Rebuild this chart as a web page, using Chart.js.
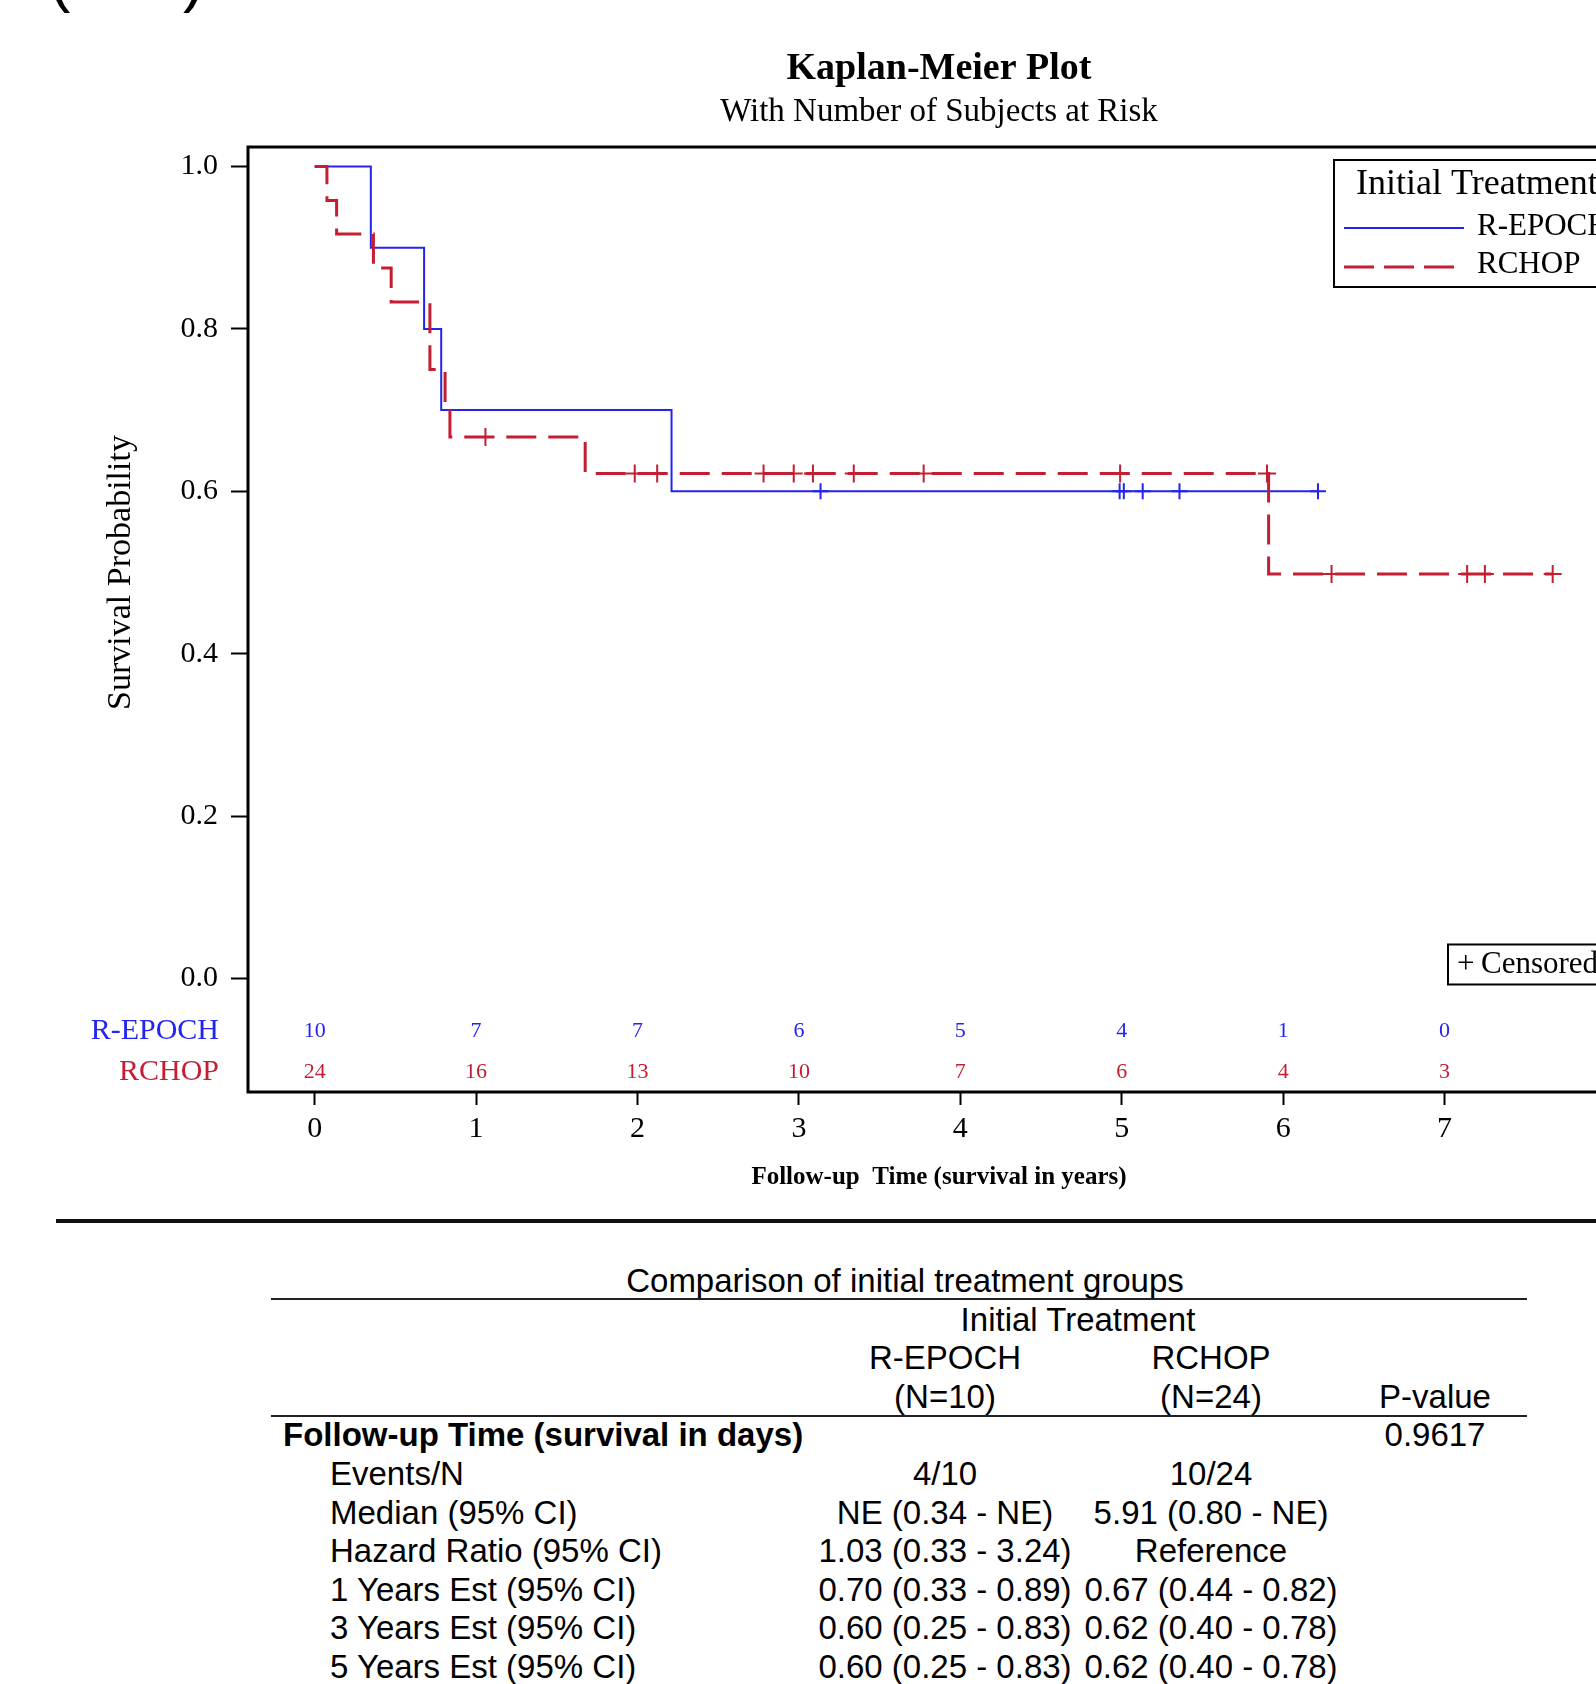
<!DOCTYPE html>
<html>
<head>
<meta charset="utf-8">
<title>Kaplan-Meier Plot</title>
<script src="https://cdn.jsdelivr.net/npm/chart.js@4.4.1/dist/chart.umd.min.js"></script>
<style>
  html, body { margin: 0; padding: 0; background: #fff; overflow: hidden; }
  #page { position: relative; width: 1596px; height: 1684px; overflow: hidden; }
  #km { position: absolute; left: 0; top: 0; }
  .paren { position: absolute; top: -54px; font: 64px/64px "Liberation Sans", Arial, sans-serif; color: #000; }
  #rule { position: absolute; left: 56px; top: 1219px; width: 1700px; height: 4px; background: #111; }
  .cell { position: absolute; font: 33px/38.6px "Liberation Sans", Arial, sans-serif; color: #000; white-space: pre; }
  .hline { position: absolute; left: 271px; width: 1256px; height: 2px; background: #222; }
</style>
</head>
<body>
<div id="page">
  <div class="paren" style="left:49px">(</div>
  <div class="paren" style="left:183px">)</div>
  <canvas id="km" width="1700" height="1212"></canvas>
  <div id="rule"></div>
  <div id="summary"></div>
</div>
<script>
// Kaplan-Meier curves by initial treatment

// Number at risk
const years = [0, 1, 2, 3, 4, 5, 6, 7];
const repochAtRisk = [10, 7, 7, 6, 5, 4, 1, 0];
const rchopAtRisk = [24, 16, 13, 10, 7, 6, 4, 3];

// Step curves (time in years, survival probability)
const repochTime = [0, 0.348, 0.678, 0.784, 2.211, 6.216];
const repochSurv = [1.0, 0.9, 0.8, 0.7, 0.6, 0.6];
const rchopTime = [0, 0.076, 0.136, 0.364, 0.474, 0.714, 0.808, 0.838, 1.676, 5.91, 7.67];
const rchopSurv = [1.0, 0.958, 0.917, 0.875, 0.833, 0.75, 0.708, 0.667, 0.622, 0.498, 0.498];

// Censored observations
const repochCensorTime = [3.134, 4.987, 5.013, 5.13, 5.358, 6.216];
const repochCensorSurv = [0.6, 0.6, 0.6, 0.6, 0.6, 0.6];
const rchopCensorTime = [1.058, 1.983, 2.122, 2.781, 2.968, 3.087, 3.34, 3.773, 4.99, 5.9, 6.3, 7.14, 7.25, 7.67];
const rchopCensorSurv = [0.667, 0.622, 0.622, 0.622, 0.622, 0.622, 0.622, 0.622, 0.622, 0.622, 0.498, 0.498, 0.498, 0.498];

const yTicks = [0, 0.2, 0.4, 0.6, 0.8, 1.0];

// Summary table
const groupNames = ["R-EPOCH", "RCHOP"];
const groupN = ["(N=10)", "(N=24)"];
const pValue = "0.9617";
const statLabels = ["Events/N", "Median (95% CI)", "Hazard Ratio (95% CI)", "1 Years Est (95% CI)", "3 Years Est (95% CI)", "5 Years Est (95% CI)"];
const repochStats = ["4/10", "NE (0.34 - NE)", "1.03 (0.33 - 3.24)", "0.70 (0.33 - 0.89)", "0.60 (0.25 - 0.83)", "0.60 (0.25 - 0.83)"];
const rchopStats = ["10/24", "5.91 (0.80 - NE)", "Reference", "0.67 (0.44 - 0.82)", "0.62 (0.40 - 0.78)", "0.62 (0.40 - 0.78)"];

const BLUE = "#2424ee";
const RED = "#c41e32";
const SERIF = '"Liberation Serif", "Times New Roman", serif';

const pts = (xs, ys) => xs.map((x, i) => ({ x: x, y: ys[i] }));

// frame, titles, legend and at-risk rows
const kmDecor = {
  id: "kmDecor",
  afterDraw(chart) {
    const { ctx, chartArea: a, scales: { x, y } } = chart;
    ctx.save();
    ctx.strokeStyle = "#000";
    ctx.lineWidth = 3;
    ctx.strokeRect(a.left, a.top, a.right - a.left, a.bottom - a.top);

    const cx = (a.left + a.right) / 2;
    ctx.fillStyle = "#000";
    ctx.textAlign = "center";
    ctx.textBaseline = "middle";
    ctx.font = "bold 38px " + SERIF;
    ctx.fillText("Kaplan-Meier Plot", cx, 69);
    ctx.font = "33px " + SERIF;
    ctx.fillText("With Number of Subjects at Risk", cx, 112);

    // y title centred on the 0..1 range
    ctx.save();
    ctx.translate(121, (y.getPixelForValue(0) + y.getPixelForValue(1)) / 2);
    ctx.rotate(-Math.PI / 2);
    ctx.font = "34px " + SERIF;
    ctx.fillText("Survival Probability", 0, 0);
    ctx.restore();

    // numbers at risk
    const rowY = [y.getPixelForValue(-0.065), y.getPixelForValue(-0.115)];
    ctx.font = "22px " + SERIF;
    years.forEach((t, i) => {
      const px = x.getPixelForValue(t);
      ctx.fillStyle = BLUE;
      ctx.fillText(String(repochAtRisk[i]), px, rowY[0]);
      ctx.fillStyle = RED;
      ctx.fillText(String(rchopAtRisk[i]), px, rowY[1]);
    });
    ctx.textAlign = "right";
    ctx.font = "30px " + SERIF;
    ctx.fillStyle = BLUE;
    ctx.fillText(groupNames[0], a.left - 29, rowY[0]);
    ctx.fillStyle = RED;
    ctx.fillText(groupNames[1], a.left - 29, rowY[1]);

    // legend box
    const lx = a.right - 296, ly = a.top + 13;
    ctx.lineWidth = 2;
    ctx.strokeStyle = "#000";
    ctx.strokeRect(lx, ly, 290, 127);
    ctx.textAlign = "left";
    ctx.fillStyle = "#000";
    ctx.font = "36px " + SERIF;
    ctx.fillText("Initial Treatment", lx + 22, ly + 25);
    ctx.font = "31px " + SERIF;
    ctx.fillText(groupNames[0], lx + 143, ly + 67);
    ctx.fillText(groupNames[1], lx + 143, ly + 105);
    ctx.strokeStyle = BLUE;
    ctx.beginPath(); ctx.moveTo(lx + 10, ly + 68); ctx.lineTo(lx + 130, ly + 68); ctx.stroke();
    ctx.strokeStyle = RED;
    ctx.lineWidth = 3;
    ctx.setLineDash([30, 10]);
    ctx.beginPath(); ctx.moveTo(lx + 10, ly + 107); ctx.lineTo(lx + 122, ly + 107); ctx.stroke();
    ctx.setLineDash([]);

    // censored key
    const cy0 = y.getPixelForValue(0) - 34;
    ctx.lineWidth = 2;
    ctx.strokeStyle = "#000";
    ctx.strokeRect(a.right - 182, cy0, 176, 40);
    ctx.fillStyle = "#000";
    ctx.font = "31px " + SERIF;
    ctx.fillText("+", a.right - 173, cy0 + 20);
    ctx.fillText("Censored", a.right - 149, cy0 + 20);
    ctx.restore();
  }
};

new Chart(document.getElementById("km"), {
  type: "scatter",
  data: {
    datasets: [
      {
        label: "RCHOP",
        data: pts(rchopTime, rchopSurv),
        showLine: true,
        stepped: true,
        borderColor: RED,
        borderWidth: 3,
        borderDash: [30, 12],
        pointRadius: 0
      },
      {
        label: "RCHOP censored",
        data: pts(rchopCensorTime, rchopCensorSurv),
        showLine: false,
        pointStyle: "cross",
        pointRadius: 9,
        borderColor: RED,
        borderWidth: 2
      },
      {
        label: "R-EPOCH",
        data: pts(repochTime, repochSurv),
        showLine: true,
        stepped: true,
        borderColor: BLUE,
        borderWidth: 2,
        pointRadius: 0
      },
      {
        label: "R-EPOCH censored",
        data: pts(repochCensorTime, repochCensorSurv),
        showLine: false,
        pointStyle: "cross",
        pointRadius: 8,
        borderColor: BLUE,
        borderWidth: 2
      }
    ]
  },
  options: {
    responsive: false,
    animation: false,
    events: [],
    layout: { padding: { left: 0, top: 147, right: 70, bottom: 0 } },
    plugins: { legend: { display: false }, tooltip: { enabled: false }, title: { display: false } },
    scales: {
      x: {
        type: "linear",
        min: -0.413,
        max: 8.149,
        afterBuildTicks: s => { s.ticks = years.map(v => ({ value: v })); },
        afterFit: s => { s.height = 120; },
        border: { display: false },
        grid: { drawOnChartArea: false, tickLength: 13, tickWidth: 2, tickColor: "#000" },
        ticks: { color: "#000", padding: 6, maxRotation: 0, autoSkip: false, font: { family: SERIF, size: 30 } },
        title: {
          display: true,
          text: "Follow-up  Time (survival in years)",
          color: "#000",
          font: { family: SERIF, size: 25, weight: "bold" },
          padding: { top: 0, bottom: 19 }
        }
      },
      y: {
        type: "linear",
        min: -0.1398,
        max: 1.024,
        afterBuildTicks: s => { s.ticks = yTicks.map(v => ({ value: v })); },
        afterFit: s => { s.width = 248; },
        border: { display: false },
        grid: { drawOnChartArea: false, tickLength: 17, tickWidth: 2, tickColor: "#000" },
        ticks: { color: "#000", padding: 13, callback: v => v.toFixed(1), font: { family: SERIF, size: 30 } }
      }
    }
  },
  plugins: [kmDecor]
});

// summary table below the plot
const summary = document.getElementById("summary");
const rowTop = n => 1262 + 38.6 * n;
function cell(text, x, n, align, bold) {
  const d = document.createElement("div");
  d.className = "cell";
  d.textContent = text;
  d.style.top = rowTop(n) + "px";
  d.style.left = x + "px";
  if (align === "center") d.style.transform = "translateX(-50%)";
  if (bold) d.style.fontWeight = "bold";
  summary.appendChild(d);
}
function hline(top) {
  const d = document.createElement("div");
  d.className = "hline";
  d.style.top = top + "px";
  summary.appendChild(d);
}
const colX = [945, 1211, 1435];
cell("Comparison of initial treatment groups", 905, 0, "center");
hline(1298);
cell("Initial Treatment", 1078, 1, "center");
groupNames.forEach((g, i) => cell(g, colX[i], 2, "center"));
groupN.forEach((g, i) => cell(g, colX[i], 3, "center"));
cell("P-value", colX[2], 3, "center");
hline(1415);
cell("Follow-up Time (survival in days)", 283, 4, "left", true);
cell(pValue, colX[2], 4, "center");
statLabels.forEach((lab, i) => {
  cell(lab, 330, 5 + i, "left");
  cell(repochStats[i], colX[0], 5 + i, "center");
  cell(rchopStats[i], colX[1], 5 + i, "center");
});
</script>
</body>
</html>
